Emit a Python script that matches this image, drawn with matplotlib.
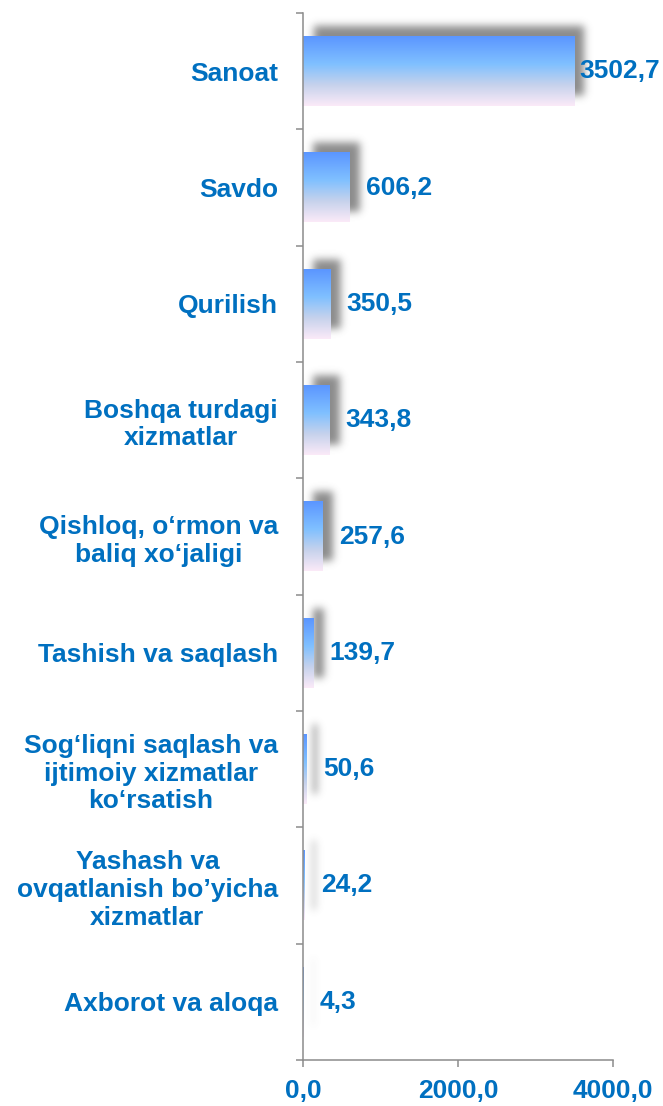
import math
import numpy as np
import matplotlib
matplotlib.use('Agg')
import matplotlib.pyplot as plt
from matplotlib.colors import LinearSegmentedColormap

# data
categories = ["Sanoat", "Savdo", "Qurilish", "Boshqa turdagi\nxizmatlar",
              "Qishloq, o‘rmon va\nbaliq xo‘jaligi", "Tashish va saqlash",
              "Sog‘liqni saqlash va\nijtimoiy xizmatlar\nko‘rsatish",
              "Yashash va\novqatlanish bo’yicha\nxizmatlar", "Axborot va aloqa"]
values = [3502.7, 606.2, 350.5, 343.8, 257.6, 139.7, 50.6, 24.2, 4.3]
x_ticks = [0, 2000, 4000]

plt.rcParams['font.family'] = ['Liberation Sans', 'DejaVu Sans']
plt.rcParams['font.weight'] = 'bold'
plt.rcParams['font.size'] = 19

blue_txt = '#0070C0'
axis_gray = '#8C8C8C'

fig = plt.figure(figsize=(6.63, 11.06), dpi=100)
ax = fig.add_axes([303 / 663, 46 / 1106, 310 / 663, 1047 / 1106])

n = len(categories)
pos = np.arange(n)[::-1]  # first category on top
xmax = 4000

# pixel -> data unit conversion
px_x = xmax / 310.0
px_y = n / 1047.0

bars = ax.barh(pos, values, height=0.6, color='none', edgecolor='none')

grad_cmap = LinearSegmentedColormap.from_list(
    'bargrad', [(0.0, '#5B96FF'), (0.4, '#80C0FF'), (0.7, '#C6D2EC'), (1.0, '#FBEAF8')])
grad = np.linspace(0, 1, 200).reshape(-1, 1)

erf = np.vectorize(math.erf)
sig = 4.0      # blur of the shadow, px
off = 10.0     # shadow offset, px

for p in bars.patches:
    x0, y0 = p.get_x(), p.get_y()
    w, h = p.get_width(), p.get_height()

    # blurred drop shadow, shifted right and up
    sx0 = x0 + off * px_x
    sx1 = sx0 + w
    sy0 = y0 + off * px_y
    sy1 = sy0 + h
    gx = np.linspace(sx0 - 4 * sig * px_x, sx1 + 4 * sig * px_x, 160)
    gy = np.linspace(sy0 - 4 * sig * px_y, sy1 + 4 * sig * px_y, 80)
    kx = sig * px_x * np.sqrt(2)
    ky = sig * px_y * np.sqrt(2)
    fx = 0.5 * (erf((gx - sx0) / kx) - erf((gx - sx1) / kx))
    fy = 0.5 * (erf((gy - sy0) / ky) - erf((gy - sy1) / ky))
    img = np.zeros((len(gy), len(gx), 4))
    img[..., :3] = 0.35
    img[..., 3] = 0.7 * np.outer(fy, fx)
    ax.imshow(img, extent=(gx[0], gx[-1], gy[0], gy[-1]), origin='lower',
              aspect='auto', interpolation='bilinear', zorder=1)

    # gradient fill of the bar
    ax.imshow(grad, cmap=grad_cmap, extent=(x0, x0 + w, y0, y0 + h),
              origin='upper', aspect='auto', interpolation='bilinear', zorder=2)

# value labels
for y, v in zip(pos, values):
    ax.text(min(v + 16 * px_x, 3570), y, f"{v:.1f}".replace('.', ','),
            va='center', ha='left', color=blue_txt, fontweight='bold', zorder=5)

ax.set_xlim(0, xmax)
ax.set_ylim(-0.5, n - 0.5)

ax.set_yticks(pos, labels=categories)
ax.set_yticks(np.arange(-0.5, n), minor=True)
ax.tick_params(axis='y', which='major', length=0, pad=18, labelcolor=blue_txt)
ax.tick_params(axis='y', which='minor', length=5, width=1.1, color=axis_gray)
for lbl in ax.get_yticklabels():
    lbl.set_multialignment('center')
    lbl.set_linespacing(1.2)

ax.set_xticks(x_ticks, labels=[f"{t:.1f}".replace('.', ',') for t in x_ticks])
ax.tick_params(axis='x', length=5, width=1.1, color=axis_gray, pad=9, labelcolor=blue_txt)

for s in ['top', 'right']:
    ax.spines[s].set_visible(False)
for s in ['left', 'bottom']:
    ax.spines[s].set_color(axis_gray)
    ax.spines[s].set_linewidth(1.1)

fig.savefig('out.png', dpi=100)
